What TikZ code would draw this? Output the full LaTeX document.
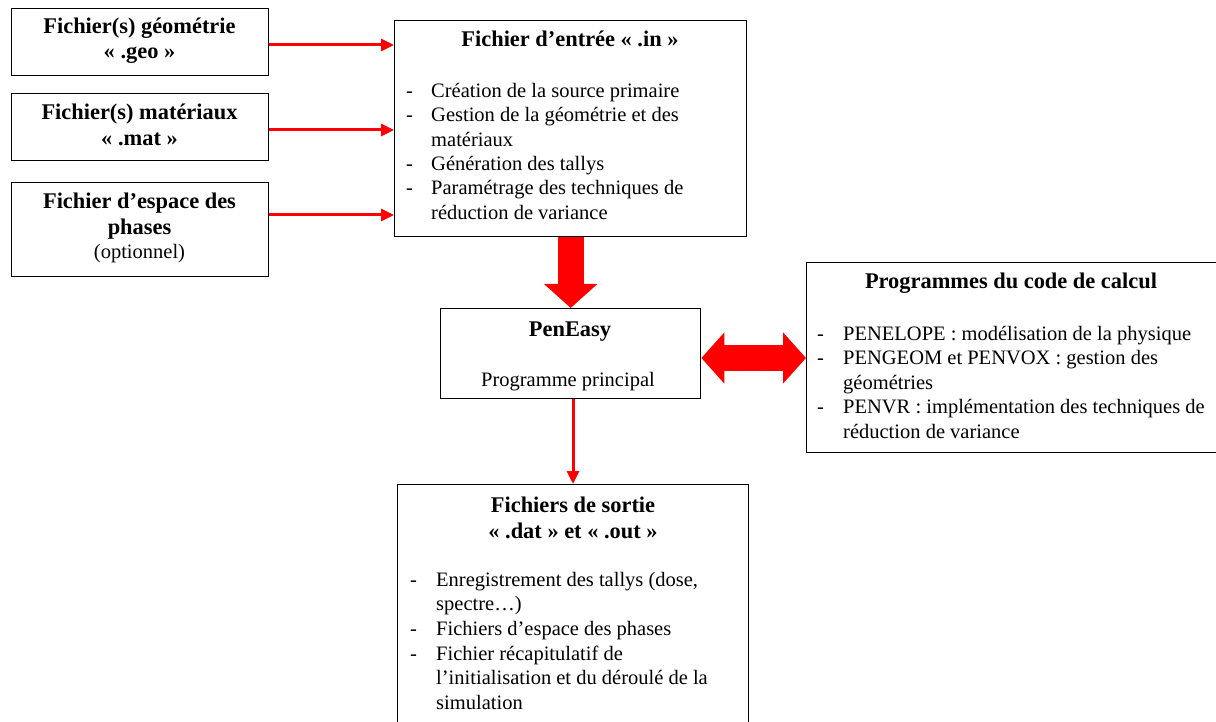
\documentclass[tikz,border=0pt]{standalone}
\usepackage{fontspec}
\setmainfont{Liberation Serif}
\usetikzlibrary{arrows.meta}
\begin{document}
\begin{tikzpicture}[x=1pt,y=-1pt,
 box/.style={draw=black,line width=1.4pt,inner sep=0pt,anchor=north west},
 ttl/.style={font=\fontsize{22.4}{26}\selectfont\bfseries,anchor=base,inner sep=0pt},
 txt/.style={font=\fontsize{20.5}{24}\selectfont,anchor=base west,inner sep=0pt},
 ctr/.style={font=\fontsize{20.5}{24}\selectfont,anchor=base,inner sep=0pt},
 thinarrow/.style={draw=red,line width=3pt,-{Triangle[length=13pt,width=12pt]}},
 bigarrow/.style={draw=red,line width=26pt,-{Triangle[length=24pt,width=52pt]}},
 dblarrow/.style={draw=red,line width=26pt,{Triangle[length=23pt,width=50pt]}-{Triangle[length=23pt,width=50pt]}}]
\fill[white] (0,0) rectangle (1216,722);
\useasboundingbox (0,0) rectangle (1216,722);

% boxes
\node[box,minimum width=257pt,minimum height=67pt] (geo) at (11,8) {};
\node[box,minimum width=257pt,minimum height=67pt] (mat) at (11,93) {};
\node[box,minimum width=257pt,minimum height=94pt] (pha) at (11,182) {};
\node[box,minimum width=352pt,minimum height=216pt] (ent) at (394,20) {};
\node[box,minimum width=260pt,minimum height=90pt] (pen) at (440,308) {};
\node[box,minimum width=420pt,minimum height=190pt] (prog) at (806,262) {};
\node[box,minimum width=351pt,minimum height=260pt] (sor) at (397,484) {};

% left texts
\node[ttl] (geo1) at (139.5,34) {Fichier(s) géométrie};
\node[ttl] (geo2) at (139.5,59) {« .geo »};
\node[ttl] (mat1) at (139.5,120) {Fichier(s) matériaux};
\node[ttl] (mat2) at (139.5,146) {« .mat »};
\node[ttl] (pha1) at (139.5,209) {Fichier d’espace des};
\node[ttl] (pha2) at (139.5,235) {phases};
\node[ctr] (pha3) at (139.5,259) {(optionnel)};

% entree
\node[ttl] (ent0) at (570,47) {Fichier d’entrée « .in »};
\node[txt] (entd1) at (406,98) {-};
\node[txt] (ent1) at (431,98) {Création de la source primaire};
\node[txt] (entd2) at (406,122) {-};
\node[txt] (ent2) at (431,122) {Gestion de la géométrie et des};
\node[txt] (ent3) at (431,147) {matériaux};
\node[txt] (entd4) at (406,171) {-};
\node[txt] (ent4) at (431,171) {Génération des tallys};
\node[txt] (entd5) at (406,195) {-};
\node[txt] (ent5) at (431,195) {Paramétrage des techniques de};
\node[txt] (ent6) at (431,220) {réduction de variance};

% peneasy
\node[ttl] (pen1) at (570,336) {PenEasy};
\node[ctr] (pen2) at (568,386) {Programme principal};

% programmes
\node[ttl] (prog0) at (1011,289) {Programmes du code de calcul};
\node[txt] (progd1) at (817,340) {-};
\node[txt] (prog1) at (843,340) {PENELOPE : modélisation de la physique};
\node[txt] (progd2) at (817,364.5) {-};
\node[txt] (prog2) at (843,364.5) {PENGEOM et PENVOX : gestion des};
\node[txt] (prog3) at (843,389) {géométries};
\node[txt] (progd4) at (817,413.5) {-};
\node[txt] (prog4) at (843,413.5) {PENVR : implémentation des techniques de};
\node[txt] (prog5) at (843,438) {réduction de variance};

% sortie
\node[ttl] (sor01) at (573,512) {Fichiers de sortie};
\node[ttl] (sor02) at (573,538) {« .dat » et « .out »};
\node[txt] (sord1) at (410,586) {-};
\node[txt] (sor1) at (436,586) {Enregistrement des tallys (dose,};
\node[txt] (sor2) at (436,610) {spectre…)};
\node[txt] (sord3) at (410,635) {-};
\node[txt] (sor3) at (436,635) {Fichiers d’espace des phases};
\node[txt] (sord4) at (410,660) {-};
\node[txt] (sor4) at (436,660) {Fichier récapitulatif de};
\node[txt] (sor5) at (436,684) {l’initialisation et du déroulé de la};
\node[txt] (sor6) at (436,709) {simulation};

% connectors
\coordinate (ya) at (0,45);
\coordinate (yb) at (0,130);
\coordinate (yc) at (0,215);
\coordinate (yd) at (0,358);
\coordinate (xe) at (573,0);
\draw[thinarrow] (geo.east |- ya) -- (ent.west |- ya);
\draw[thinarrow] (mat.east |- yb) -- (ent.west |- yb);
\draw[thinarrow] (pha.east |- yc) -- (ent.west |- yc);
\draw[bigarrow] (ent.south) -- (pen.north);
\draw[dblarrow] (pen.east |- yd) -- (prog.west |- yd);
\draw[thinarrow] (pen.south -| xe) -- (sor.north -| xe);
\end{tikzpicture}
\end{document}
